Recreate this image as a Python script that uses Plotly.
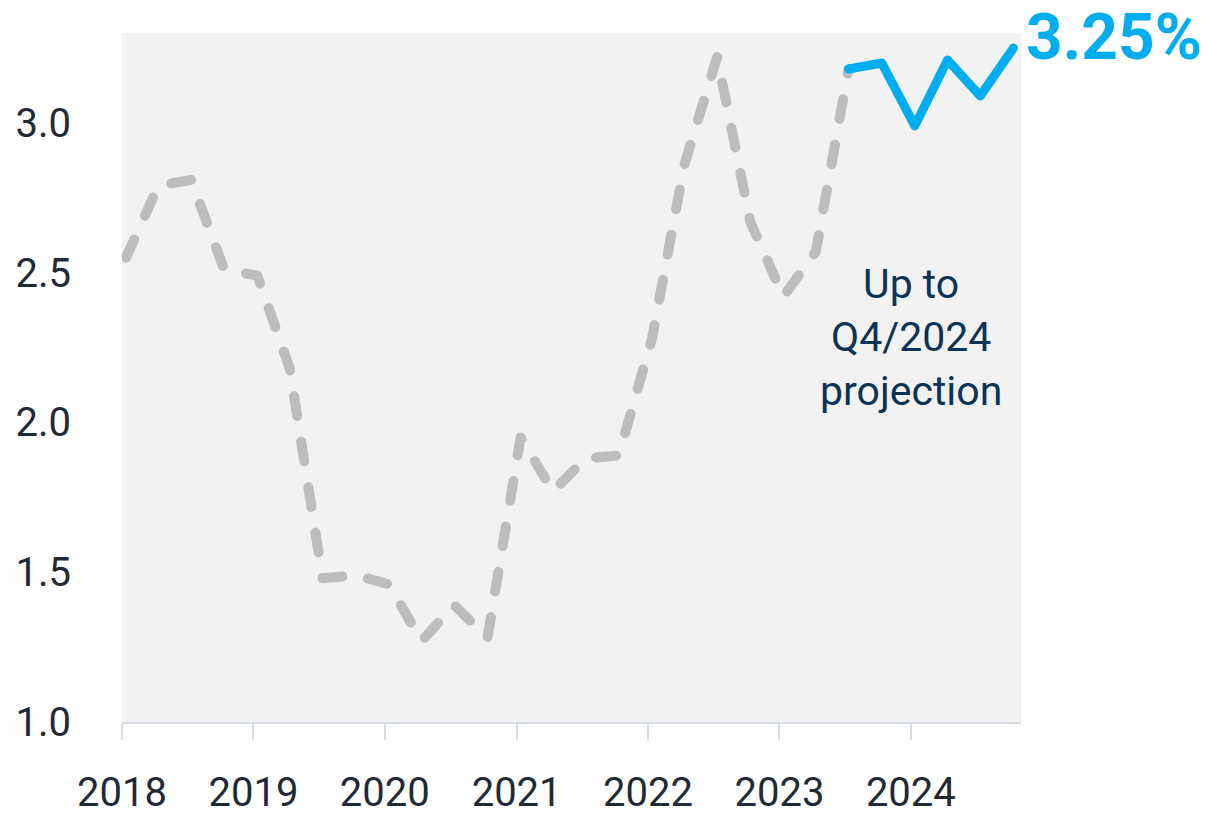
import plotly.graph_objects as go
import pandas as pd

# Quarterly periods
hist_quarters = ["2018Q1", "2018Q2", "2018Q3", "2018Q4", "2019Q1", "2019Q2", "2019Q3", "2019Q4",
                 "2020Q1", "2020Q2", "2020Q3", "2020Q4", "2021Q1", "2021Q2", "2021Q3", "2021Q4",
                 "2022Q1", "2022Q2", "2022Q3", "2022Q4", "2023Q1", "2023Q2", "2023Q3"]
hist_values = [2.55, 2.79, 2.81, 2.51, 2.49, 2.18, 1.48, 1.49,
               1.46, 1.27, 1.39, 1.28, 1.95, 1.77, 1.88, 1.89,
               2.28, 2.86, 3.22, 2.67, 2.42, 2.57, 3.18]

proj_quarters = ["2023Q3", "2023Q4", "2024Q1", "2024Q2", "2024Q3", "2024Q4"]
proj_values = [3.18, 3.20, 2.99, 3.21, 3.09, 3.25]

y_ticks = [1.0, 1.5, 2.0, 2.5, 3.0]
final_label = "3.25%"
note_text = "Up to<br>Q4/2024<br>projection"


def to_dates(qs):
    return [(pd.Period(q, freq="Q").start_time + pd.Timedelta(days=11)).strftime("%Y-%m-%d") for q in qs]


FONT = "Roboto, 'Noto Sans', sans-serif"
GRAY = "#BDBDBD"
BLUE = "#00AEEF"
NAVY = "#0B3356"
TICK = "#1F2A36"
AXIS = "#D5DCE3"

fig = go.Figure()
fig.add_trace(go.Scatter(
    x=to_dates(hist_quarters), y=hist_values, mode="lines",
    line=dict(color=GRAY, width=10, dash="20px,26px"),
    hoverinfo="skip", showlegend=False,
))
fig.add_trace(go.Scatter(
    x=to_dates(proj_quarters), y=proj_values, mode="lines",
    line=dict(color=BLUE, width=9),
    hoverinfo="skip", showlegend=False,
))

fig.add_annotation(
    text="<b>%s</b>" % final_label, xref="paper", x=1, xanchor="left", xshift=3,
    yref="y", y=proj_values[-1], yanchor="middle", yshift=10,
    showarrow=False, font=dict(family=FONT, size=64, color=BLUE),
)
fig.add_annotation(
    text=note_text, xref="x", x="2024-01-01", xanchor="center",
    yref="y", y=2.283, yanchor="middle", align="center",
    showarrow=False, font=dict(family=FONT, size=41, color=NAVY),
)

fig.update_layout(
    width=1228, height=819,
    margin=dict(l=122, r=207, t=33, b=97, autoexpand=False),
    paper_bgcolor="white", plot_bgcolor="#F2F2F2",
    font=dict(family=FONT, color=TICK),
    showlegend=False,
)
fig.update_xaxes(
    type="date", range=["2018-01-01", "2024-11-02"],
    dtick="M12", tick0="2018-01-01", tickformat="%Y",
    showgrid=False, zeroline=False,
    showline=True, linecolor=AXIS, linewidth=2,
    ticks="outside", ticklen=16, tickwidth=2, tickcolor=AXIS,
    tickfont=dict(family=FONT, size=40, color=TICK),
    ticklabelstandoff=18, automargin=False,
)
fig.update_yaxes(
    range=[1.0, 3.3], tickvals=y_ticks, tickformat=".1f",
    showgrid=False, zeroline=False, showline=False, ticks="",
    tickfont=dict(family=FONT, size=40, color=TICK),
    ticklabelstandoff=50, automargin=False,
)

post = """
var gd = document.getElementById('{plot_id}');
function fixCaps(){
  gd.querySelectorAll('.scatterlayer .js-line').forEach(function(p){
    p.style.strokeLinecap = 'round';
    p.style.strokeLinejoin = 'round';
  });
}
fixCaps();
gd.on('plotly_afterplot', fixCaps);
"""
fig.write_html("out.html", post_script=post, config={"displayModeBar": False})
